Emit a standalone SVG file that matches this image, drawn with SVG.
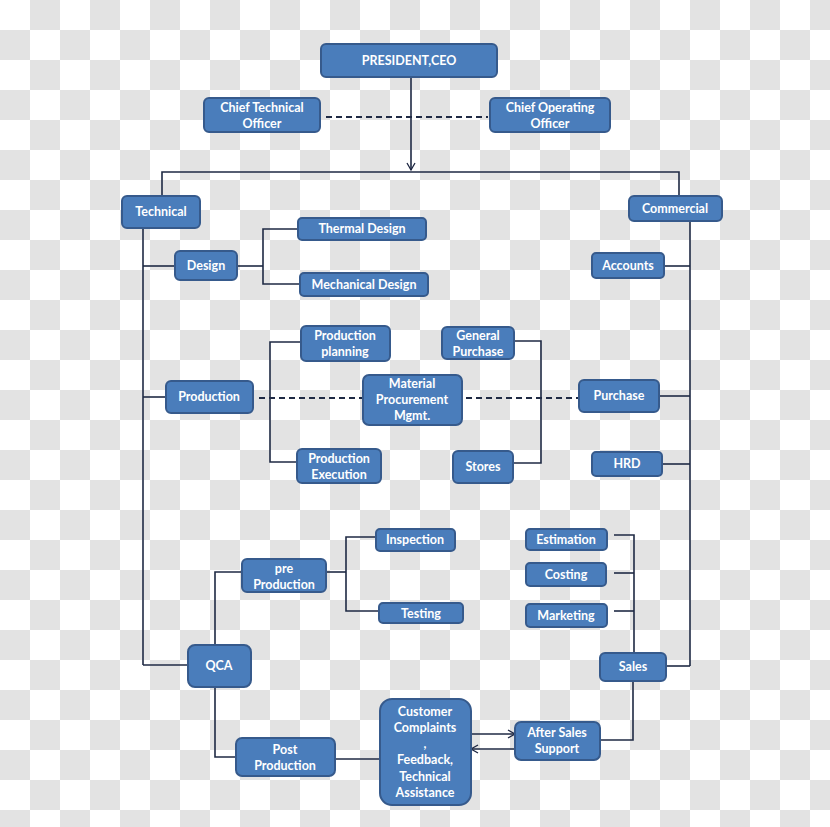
<svg xmlns="http://www.w3.org/2000/svg" width="830" height="827" viewBox="0 0 830 827">
<defs>
<pattern id="chk" x="0" y="0" width="60" height="60" patternUnits="userSpaceOnUse">
<rect width="60" height="60" fill="#ffffff"/>
<rect x="30" y="0" width="30" height="30" fill="#e3e3e3"/>
<rect x="0" y="30" width="30" height="30" fill="#e3e3e3"/>
</pattern>
<marker id="arr" markerWidth="10" markerHeight="10" refX="8" refY="5" orient="auto" markerUnits="userSpaceOnUse">
<path d="M1,1 L8,5 L1,9" fill="none" stroke="#1c2541" stroke-width="1.3"/>
</marker>
</defs>
<style>
.n rect{fill:#4a7dbb;stroke:#365a8c;stroke-width:2}
.n text{fill:#ffffff;font-family:Lato,"Open Sans","Liberation Sans",sans-serif;font-weight:bold;font-size:12.5px;text-anchor:middle}
.c line,.c polyline,.c path{fill:none;stroke:#1f2a44;stroke-width:1.6}
.c .d{stroke-dasharray:6,4;stroke-width:2}
</style>
<rect width="830" height="827" fill="url(#chk)"/>
<g class="c" id="connectors">
<line x1="411" y1="78" x2="411" y2="170" marker-end="url(#arr)"/>
<line class="d" x1="326" y1="117" x2="488" y2="117"/>
<polyline points="162,197 162,172 679,172 679,196"/>
<line x1="143" y1="228" x2="143" y2="665"/>
<line x1="143" y1="266" x2="175" y2="266"/>
<line x1="143" y1="397" x2="166" y2="397"/>
<line x1="143" y1="665" x2="188" y2="665"/>
<polyline points="237,266 263,266"/>
<polyline points="298,229 263,229 263,284 300,284"/>
<line x1="690" y1="221" x2="690" y2="666"/>
<line x1="664" y1="266" x2="690" y2="266"/>
<line x1="659" y1="396" x2="690" y2="396"/>
<line x1="662" y1="464" x2="690" y2="464"/>
<line x1="666" y1="666" x2="690" y2="666"/>
<polyline points="301,342 270,342 270,462 297,462"/>
<line class="d" x1="259" y1="398" x2="362" y2="398"/>
<line class="d" x1="466" y1="398" x2="578" y2="398"/>
<polyline points="514,341 541,341 541,463 513,463"/>
<polyline points="242,572 215,572 215,645"/>
<line x1="326" y1="572" x2="346" y2="572"/>
<polyline points="376,537 346,537 346,611 379,611"/>
<polyline points="215,687 215,757 236,757"/>
<line x1="335" y1="759" x2="380" y2="759"/>
<line x1="471" y1="734" x2="515" y2="734" marker-end="url(#arr)"/>
<line x1="515" y1="749" x2="471" y2="749" marker-end="url(#arr)"/>
<polyline points="600,740 633,740 633,681"/>
<polyline points="614,535 634,535 634,653"/>
<line x1="614" y1="573" x2="634" y2="573"/>
<line x1="614" y1="611" x2="634" y2="611"/>
</g>
<g class="n" id="president"><rect x="321" y="44" width="176" height="33" rx="5"/><text x="409" y="65">PRESIDENT,CEO</text></g>
<g class="n" id="cto"><rect x="204" y="98" width="116" height="34" rx="5"/><text x="262" y="112">Chief Technical</text><text x="262" y="128">Officer</text></g>
<g class="n" id="coo"><rect x="490" y="98" width="120" height="34" rx="5"/><text x="550" y="112">Chief Operating</text><text x="550" y="128">Officer</text></g>
<g class="n" id="technical"><rect x="122" y="196" width="78" height="32" rx="5"/><text x="161" y="216">Technical</text></g>
<g class="n" id="commercial"><rect x="629" y="196" width="93" height="25" rx="5"/><text x="675" y="213">Commercial</text></g>
<g class="n" id="design"><rect x="175" y="251" width="62" height="29" rx="5"/><text x="206" y="270">Design</text></g>
<g class="n" id="thermal"><rect x="298" y="218" width="128" height="22" rx="4"/><text x="362" y="233">Thermal Design</text></g>
<g class="n" id="mechanical"><rect x="300" y="273" width="128" height="23" rx="4"/><text x="364" y="289">Mechanical Design</text></g>
<g class="n" id="accounts"><rect x="592" y="253" width="72" height="25" rx="4"/><text x="628" y="270">Accounts</text></g>
<g class="n" id="production"><rect x="166" y="381" width="87" height="32" rx="5"/><text x="209" y="401">Production</text></g>
<g class="n" id="prodplanning"><rect x="301" y="326" width="89" height="35" rx="5"/><text x="345" y="340">Production</text><text x="345" y="356">planning</text></g>
<g class="n" id="prodexecution"><rect x="297" y="449" width="84" height="34" rx="5"/><text x="339" y="463">Production</text><text x="339" y="479">Execution</text></g>
<g class="n" id="mpm"><rect x="363" y="375" width="99" height="50" rx="6"/><text x="412" y="388">Material</text><text x="412" y="404">Procurement</text><text x="412" y="420">Mgmt.</text></g>
<g class="n" id="genpurchase"><rect x="442" y="327" width="72" height="32" rx="5"/><text x="478" y="340">General</text><text x="478" y="356">Purchase</text></g>
<g class="n" id="stores"><rect x="453" y="451" width="60" height="32" rx="5"/><text x="483" y="471">Stores</text></g>
<g class="n" id="purchase"><rect x="579" y="380" width="80" height="32" rx="5"/><text x="619" y="400">Purchase</text></g>
<g class="n" id="hrd"><rect x="592" y="452" width="70" height="24" rx="4"/><text x="627" y="468">HRD</text></g>
<g class="n" id="preproduction"><rect x="242" y="559" width="84" height="33" rx="5"/><text x="284" y="573">pre</text><text x="284" y="589">Production</text></g>
<g class="n" id="inspection"><rect x="376" y="529" width="79" height="22" rx="4"/><text x="415" y="544">Inspection</text></g>
<g class="n" id="testing"><rect x="379" y="603" width="84" height="20" rx="4"/><text x="421" y="618">Testing</text></g>
<g class="n" id="estimation"><rect x="526" y="529" width="81" height="21" rx="4"/><text x="566" y="544">Estimation</text></g>
<g class="n" id="costing"><rect x="526" y="563" width="80" height="23" rx="4"/><text x="566" y="579">Costing</text></g>
<g class="n" id="marketing"><rect x="526" y="604" width="81" height="23" rx="4"/><text x="566" y="620">Marketing</text></g>
<g class="n" id="qca"><rect x="188" y="645" width="63" height="42" rx="7"/><text x="219" y="670">QCA</text></g>
<g class="n" id="sales"><rect x="600" y="653" width="66" height="28" rx="5"/><text x="633" y="671">Sales</text></g>
<g class="n" id="postproduction"><rect x="236" y="738" width="99" height="38" rx="6"/><text x="285" y="754">Post</text><text x="285" y="770">Production</text></g>
<g class="n" id="complaints"><rect x="380" y="699" width="91" height="106" rx="12"/><text x="425" y="716">Customer</text><text x="425" y="732">Complaints</text><text x="425" y="748">,</text><text x="425" y="764">Feedback,</text><text x="425" y="781">Technical</text><text x="425" y="797">Assistance</text></g>
<g class="n" id="aftersales"><rect x="515" y="722" width="85" height="38" rx="6"/><text x="557" y="737">After Sales</text><text x="557" y="753">Support</text></g>
</svg>
